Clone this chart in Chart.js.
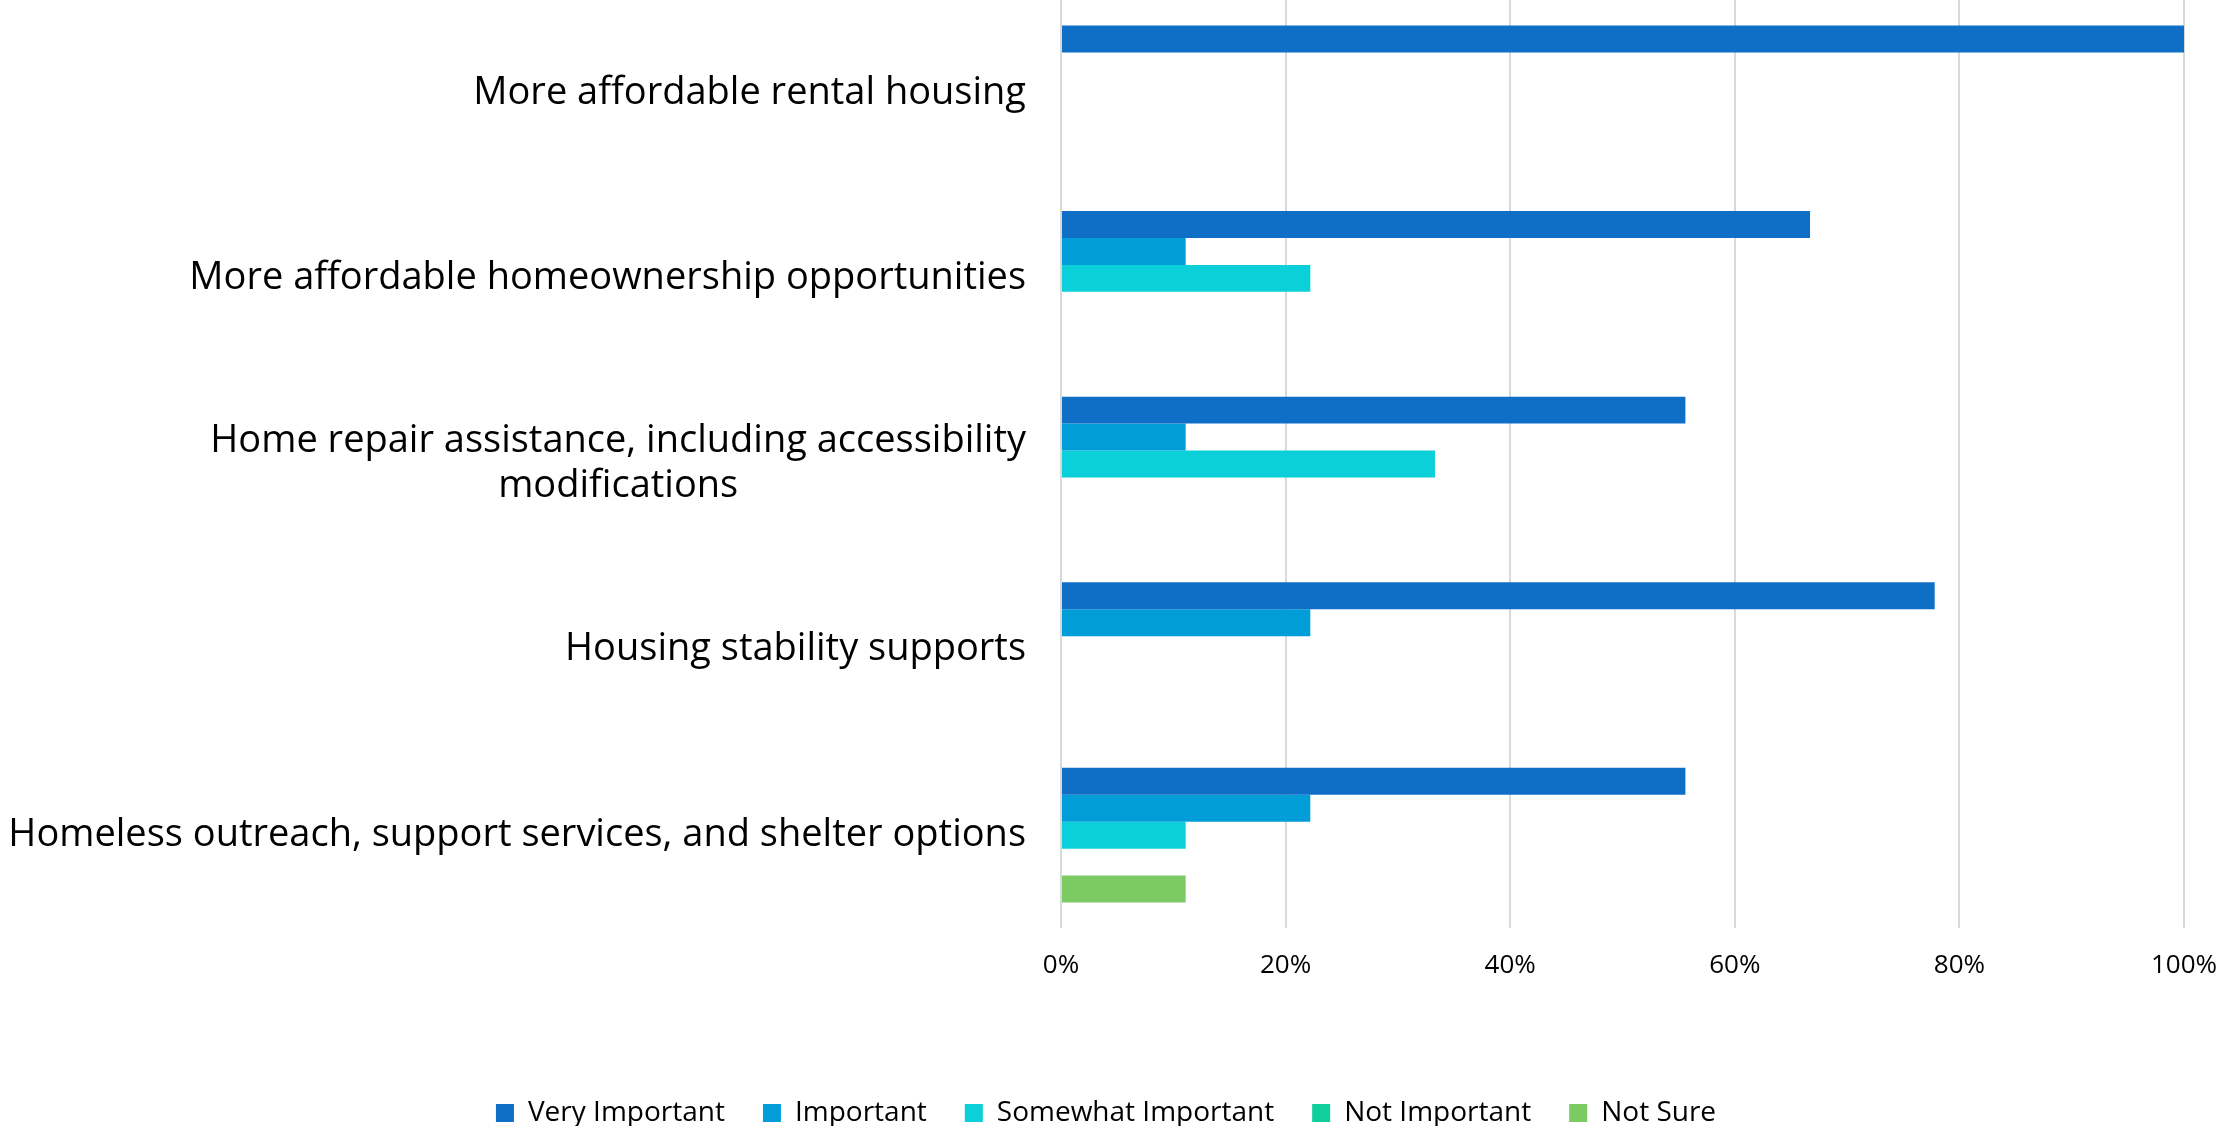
<!DOCTYPE html>
<html>
<head>
<meta charset="utf-8">
<script src="https://cdn.jsdelivr.net/npm/chart.js@4.4.1/dist/chart.umd.min.js"></script>
<style>
  html, body { margin: 0; padding: 0; background: #ffffff; }
  #wrap { width: 2223px; height: 1126px; position: relative; }
</style>
</head>
<body>
<div id="wrap"><canvas id="c" width="2223" height="1126"></canvas></div>
<script>
const categories = [
  ["More affordable rental housing"],
  ["More affordable homeownership opportunities"],
  ["Home repair assistance, including accessibility", "modifications"],
  ["Housing stability supports"],
  ["Homeless outreach, support services, and shelter options"]
];
const seriesNames = ["Very Important", "Important", "Somewhat Important", "Not Important", "Not Sure"];
const veryImportant     = [100, 66.7, 55.6, 77.8, 55.6];
const important         = [0, 11.1, 11.1, 22.2, 22.2];
const somewhatImportant = [0, 22.2, 33.3, 0, 11.1];
const notImportant      = [0, 0, 0, 0, 0];
const notSure           = [0, 0, 0, 0, 11.1];
const xTicks = [0, 20, 40, 60, 80, 100];

const colors = ["#0F6FC6", "#009DD9", "#0BD0D9", "#10CF9B", "#7CCA62"];
const seriesValues = [veryImportant, important, somewhatImportant, notImportant, notSure];

const labelFont = '38px "Open Sans"';
const labelLineHeight = 45;

const yLabelsPlugin = {
  id: 'yLabels',
  afterDraw(chart) {
    const ctx = chart.ctx;
    const yScale = chart.scales.y;
    const right = chart.chartArea.left - 35;
    ctx.save();
    ctx.font = labelFont;
    ctx.fillStyle = '#000000';
    ctx.textBaseline = 'middle';
    ctx.textAlign = 'center';
    categories.forEach((lines, i) => {
      const cy = yScale.getPixelForValue(i);
      let w = 0;
      lines.forEach(l => { w = Math.max(w, ctx.measureText(l).width); });
      const cx = right - w / 2;
      lines.forEach((l, j) => {
        const y = cy + (j - (lines.length - 1) / 2) * labelLineHeight;
        ctx.fillText(l, cx, y);
      });
    });
    ctx.restore();
  }
};

new Chart(document.getElementById('c'), {
  type: 'bar',
  data: {
    labels: categories.map(c => c.join(' ')),
    datasets: seriesNames.map((name, k) => ({
      label: name,
      data: seriesValues[k],
      backgroundColor: colors[k],
      borderWidth: 0,
      categoryPercentage: 0.726,
      barPercentage: 1.0
    }))
  },
  options: {
    indexAxis: 'y',
    responsive: false,
    animation: false,
    devicePixelRatio: 1,
    layout: { padding: { left: 28, right: 39, top: -2, bottom: -11 } },
    scales: {
      x: {
        min: 0,
        max: 100,
        afterBuildTicks(scale) { scale.ticks = xTicks.map(v => ({ value: v })); },
        ticks: {
          callback: v => v + '%',
          color: '#000000',
          font: { family: '"Open Sans"', size: 26 },
          padding: 22,
          maxRotation: 0
        },
        grid: { color: '#D9D9D9', lineWidth: 2, drawTicks: false },
        border: { display: false },
        afterFit(scale) { scale.height = 133; scale.paddingLeft = 0; scale.paddingRight = 0; }
      },
      y: {
        ticks: { display: false },
        grid: { display: false },
        border: { display: false },
        afterFit(scale) { scale.width = 1033; }
      }
    },
    plugins: {
      legend: {
        position: 'bottom',
        labels: {
          color: '#000000',
          font: { family: '"Open Sans"', size: 28 },
          boxWidth: 18,
          boxHeight: 18,
          padding: 38
        }
      },
      tooltip: { enabled: false }
    }
  },
  plugins: [yLabelsPlugin]
});
</script>
</body>
</html>
